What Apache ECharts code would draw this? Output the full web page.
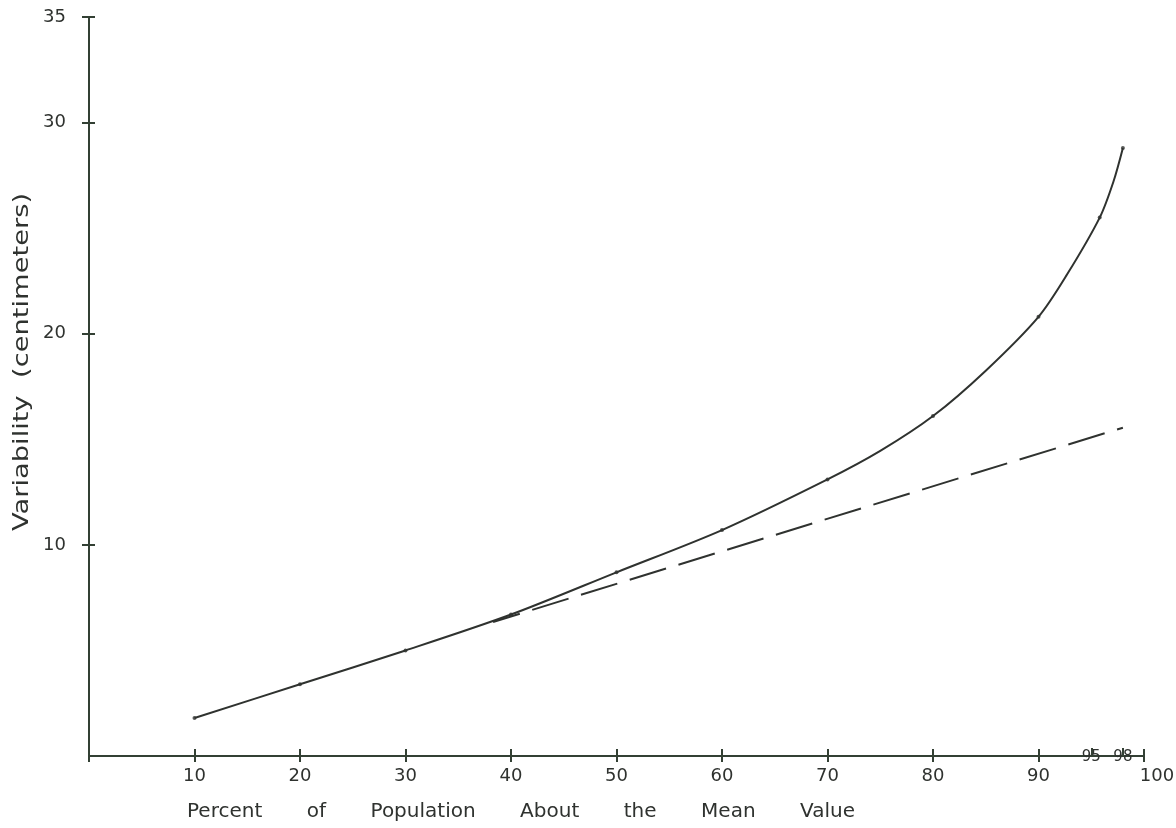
<!DOCTYPE html>
<html>
<head>
<meta charset="utf-8">
<script src="https://cdn.jsdelivr.net/npm/echarts@6/dist/echarts.min.js"></script>
<style>
html,body{margin:0;padding:0;background:#fff;}
#chart{width:1176px;height:828px;}
</style>
</head>
<body>
<div id="chart"></div>
<script>
// Plotted points (with dots)
const percentPoints = [10, 20, 30, 40, 50, 60, 70, 80, 90, 95.8, 98];
const variability = [1.8, 3.4, 5.0, 6.7, 8.7, 10.7, 13.1, 16.1, 20.8, 25.5, 28.8];
// Extra positions (no dots)
const tracedX = [75, 85, 92.7, 97.1];
const tracedY = [14.45, 18.25, 22.8, 27.2];
// Dashed straight line
const linearX = [38.3, 98];
const linearY = [6.35, 15.55];
// Axis ticks and labels
const xTickValues = [10, 20, 30, 40, 50, 60, 70, 80, 90, 100];
const xSmallTicks = [95, 98];
const xMainLabels = [10, 20, 30, 40, 50, 60, 70, 80, 90, 100];
const xSmallLabels = [95, 98];
const xTickStep = 10;
const yTickValues = [10, 20, 30, 35];
const xTitle = 'Percent       of       Population       About       the       Mean       Value';
const yTitle = 'Variability  (centimeters)';

const ink = '#2f322f';
const axisInk = '#334034';
const font = '"DejaVu Sans", "Noto Sans", sans-serif';

const curve = percentPoints.map((p, i) => [p, variability[i]])
  .concat(tracedX.map((p, i) => [p, tracedY[i]]))
  .sort((a, b) => a[0] - b[0]);

const chart = echarts.init(document.getElementById('chart'));
const baseX = {type: 'value', min: 0, max: 100, position: 'bottom', splitLine: {show: false}};
const baseY = {type: 'value', min: 0, max: 35, position: 'left', splitLine: {show: false}};
chart.setOption({
  animation: false,
  backgroundColor: '#ffffff',
  grid: {left: 89, right: 32, top: 17, bottom: 72, outerBoundsMode: 'none', containLabel: false},
  graphic: [
    {
      type: 'text', x: 187, y: 812,
      style: {text: xTitle, fontFamily: font, fontSize: 20, fill: ink,
        textAlign: 'left', textVerticalAlign: 'middle'}
    },
    {
      type: 'text', x: 23, y: 362, rotation: Math.PI / 2, scaleX: 1.3,
      style: {text: yTitle, fontFamily: font, fontSize: 21, fill: ink,
        textAlign: 'center', textVerticalAlign: 'middle'}
    }
  ],
  xAxis: [
    Object.assign({}, baseX, {
      axisLine: {show: true, onZero: false, lineStyle: {color: axisInk, width: 2}},
      axisTick: {show: true, inside: true, length: 7, lineStyle: {color: axisInk, width: 2}},
      interval: xTickStep,
      axisLabel: {show: true, customValues: xMainLabels, hideOverlap: false, margin: 11,
        fontFamily: font, fontSize: 18, color: ink,
        formatter: v => v === 100 ? '{r|' + v + '}' : String(v),
        rich: {r: {fontFamily: font, fontSize: 18, color: ink, padding: [0, 0, 0, 26]}}}
    }),
    Object.assign({}, baseX, {
      axisLine: {show: false, onZero: false},
      axisTick: {show: true, inside: false, length: 6, lineStyle: {color: axisInk, width: 2}},
      interval: xTickStep,
      axisLabel: {show: false}
    }),
    Object.assign({}, baseX, {
      axisLine: {show: false, onZero: false},
      axisTick: {show: true, customValues: xSmallTicks, inside: true, length: 8, lineStyle: {color: axisInk, width: 2}},
      axisLabel: {show: true, customValues: xSmallLabels, hideOverlap: false, margin: -6,
        fontFamily: font, fontSize: 15, color: ink}
    })
  ],
  yAxis: [
    Object.assign({}, baseY, {
      axisLine: {show: true, onZero: false, lineStyle: {color: axisInk, width: 2}},
      axisTick: {show: true, customValues: yTickValues, inside: false, length: 7, lineStyle: {color: axisInk, width: 2}},
      axisLabel: {show: true, customValues: yTickValues, hideOverlap: false, margin: 23,
        fontFamily: font, fontSize: 18, color: ink}
    }),
    Object.assign({}, baseY, {
      axisLine: {show: false, onZero: false},
      axisTick: {show: true, customValues: yTickValues, inside: true, length: 6, lineStyle: {color: axisInk, width: 2}},
      axisLabel: {show: false}
    })
  ],
  series: [
    {
      type: 'line', xAxisIndex: 0, yAxisIndex: 0,
      data: curve,
      smooth: 0.3,
      symbol: 'none',
      lineStyle: {color: ink, width: 2}
    },
    {
      type: 'scatter', xAxisIndex: 0, yAxisIndex: 0,
      data: percentPoints.map((p, i) => [p, variability[i]]),
      symbol: 'circle', symbolSize: 4,
      itemStyle: {color: ink}
    },
    {
      type: 'line', xAxisIndex: 0, yAxisIndex: 0,
      data: linearX.map((p, i) => [p, linearY[i]]),
      symbol: 'none',
      lineStyle: {color: ink, width: 2, type: [38, 13], dashOffset: 10}
    }
  ]
});
</script>
</body>
</html>
